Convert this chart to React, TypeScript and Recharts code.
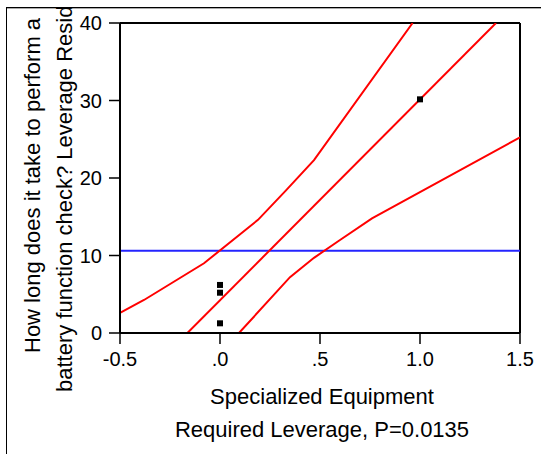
import React from 'react'
import { ComposedChart, Line, Scatter, XAxis, YAxis, ReferenceLine } from 'recharts'

const FONT = '"Liberation Sans", Arial, sans-serif'

// axis ticks
const xTicks = [-0.5, 0, 0.5, 1, 1.5]
const xTickLabels = ['-0.5', '.0', '.5', '1.0', '1.5']
const yTicks = [0, 10, 20, 30, 40]

// leverage residual points
const pointX = [0, 0, 0, 1]
const pointY = [6.2, 5.2, 1.25, 30.15]

// fitted line
const fitX = [-0.163, 1.38]
const fitY = [0, 40]

// confidence curves
const upperX = [-0.5, -0.38, -0.08, 0.19, 0.33, 0.47, 0.963]
const upperY = [2.6, 4.26, 9.0, 14.6, 18.4, 22.3, 40]
const lowerX = [0.095, 0.35, 0.47, 0.6, 0.76, 1.5]
const lowerY = [0, 7.2, 9.7, 12.0, 14.8, 25.25]

// mean of response
const meanY = 10.6

const xLabel = 'Specialized Equipment'
const xSubLabel = 'Required Leverage, P=0.0135'
const yLabel1 = 'How long does it take to perform a'
const yLabel2 = 'battery function check? Leverage Residuals'

const zip = (xs: number[], ys: number[]) => xs.map((x, i) => ({ x, y: ys[i] }))

const points = zip(pointX, pointY)
const fit = zip(fitX, fitY)
const upper = zip(upperX, upperY)
const lower = zip(lowerX, lowerY)

const Square = (props: any) => {
  const { cx, cy } = props
  return <rect x={cx - 3} y={cy - 3} width={6} height={6} fill="#000" />
}

const YLabel = () => (
  <g>
    <defs>
      <clipPath id="ylab-clip">
        <rect x={0} y={8} width={110} height={446} />
      </clipPath>
    </defs>
    <g clipPath="url(#ylab-clip)" fontFamily={FONT} fontSize={22} fill="#000">
      <text x={40} y={353} transform="rotate(-90 40 353)" textAnchor="start">
        {yLabel1}
      </text>
      <text x={72} y={392} transform="rotate(-90 72 392)" textAnchor="start">
        {yLabel2}
      </text>
    </g>
  </g>
)

const XLabel = () => (
  <g fontFamily={FONT} fontSize={22} fill="#000">
    <text x={322} y={404} textAnchor="middle">
      {xLabel}
    </text>
    <text x={322} y={437} textAnchor="middle">
      {xSubLabel}
    </text>
  </g>
)

export default function App() {
  return (
    <div style={{ position: 'absolute', left: 0, top: 0, width: 541, height: 454, background: '#fff' }}>
      <div
        style={{
          position: 'absolute',
          left: 6,
          top: 7,
          right: 0,
          bottom: 0,
          borderTop: '1px solid #000',
          borderLeft: '1px solid #000',
        }}
      />
      <div style={{ position: 'absolute', left: 7, top: 8, right: 0, height: 0, borderTop: '1px solid #aaa' }} />
      <div style={{ position: 'absolute', left: 0, top: 0 }}>
        <ComposedChart width={541} height={454} margin={{ top: 23, right: 21, left: 60, bottom: 71 }}>
          <XAxis
            dataKey="x"
            type="number"
            domain={[-0.5, 1.5]}
            ticks={xTicks}
            tickFormatter={(v: number) => xTickLabels[xTicks.indexOf(v)] ?? String(v)}
            height={50}
            axisLine={{ stroke: '#000', strokeWidth: 2 }}
            tickLine={{ stroke: '#000', strokeWidth: 1.5 }}
            tickSize={11}
            tickMargin={8}
            tick={{ fill: '#000', fontSize: 20, fontFamily: FONT }}
            allowDataOverflow
            label={{ content: () => <XLabel /> }}
          />
          <YAxis
            dataKey="y"
            type="number"
            domain={[0, 40]}
            ticks={yTicks}
            width={60}
            axisLine={{ stroke: '#000', strokeWidth: 2 }}
            tickLine={{ stroke: '#000', strokeWidth: 1.5 }}
            tickSize={11}
            tickMargin={7}
            tick={{ fill: '#000', fontSize: 20, fontFamily: FONT }}
            allowDataOverflow
            label={{ content: () => <YLabel /> }}
          />
          <ReferenceLine y={40} stroke="#000" strokeWidth={2} />
          <ReferenceLine x={1.5} stroke="#000" strokeWidth={2} />
          <ReferenceLine y={meanY} stroke="#2424ff" strokeWidth={2} />
          <Line data={upper} dataKey="y" type="linear" stroke="#ff0000" strokeWidth={2} dot={false} isAnimationActive={false} />
          <Line data={fit} dataKey="y" type="linear" stroke="#ff0000" strokeWidth={2} dot={false} isAnimationActive={false} />
          <Line data={lower} dataKey="y" type="linear" stroke="#ff0000" strokeWidth={2} dot={false} isAnimationActive={false} />
          <Scatter data={points} dataKey="y" shape={Square} isAnimationActive={false} />
        </ComposedChart>
      </div>
    </div>
  )
}
